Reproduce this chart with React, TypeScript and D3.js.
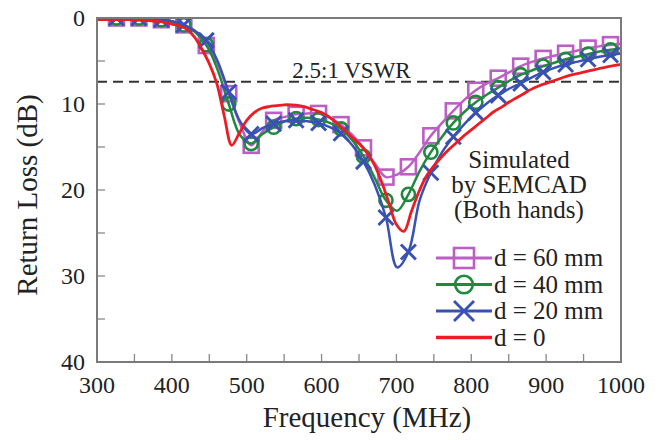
import React from "react";
import * as d3 from "d3";

// frequency grid (MHz) of the SEMCAD curves with markers
const freqMarked = [296, 311, 326, 341, 356, 371, 386, 401, 416, 431, 446, 461, 476, 491, 506, 521, 536, 551, 566, 581, 596, 611, 626, 641, 656, 671, 686, 701, 716, 731, 746, 761, 776, 791, 806, 821, 836, 851, 866, 881, 896, 911, 926, 941, 956, 971, 986, 1001];
const loss60 = [0, 0, 0, 0, 0, 0.1, 0.2, 0.4, 0.8, 1.6, 3.2, 5.3, 8.8, 12.3, 14.8, 13.2, 11.9, 11.5, 11.2, 11.1, 11.1, 11.6, 12.4, 13.6, 15.1, 16.9, 18.5, 18.2, 17.3, 15.6, 13.7, 12.2, 10.8, 9.5, 8.4, 7.6, 7.0, 6.3, 5.6, 5.1, 4.7, 4.4, 4.1, 3.8, 3.5, 3.3, 3.1, 3.0];
const loss40 = [0, 0, 0, 0, 0, 0.1, 0.2, 0.4, 0.8, 1.6, 3.1, 6.0, 10.0, 13.6, 14.6, 13.5, 12.7, 12.0, 11.7, 11.6, 11.8, 12.2, 12.9, 14.2, 16.1, 18.6, 21.2, 22.4, 20.5, 17.8, 15.6, 13.8, 12.2, 10.9, 9.8, 8.9, 8.1, 7.3, 6.6, 6.1, 5.6, 5.2, 4.8, 4.5, 4.2, 3.9, 3.7, 3.5];
const loss20 = [0, 0, 0, 0, 0, 0.1, 0.2, 0.4, 0.8, 1.5, 2.6, 5.0, 8.6, 12.0, 13.5, 12.8, 12.3, 12.0, 11.9, 12.0, 12.2, 12.7, 13.4, 14.8, 16.7, 19.4, 23.2, 29.0, 27.2, 21.2, 18.0, 15.6, 13.8, 12.3, 11.0, 9.9, 9.0, 8.2, 7.6, 6.9, 6.3, 5.8, 5.4, 5.1, 4.8, 4.5, 4.3, 4.1];
// markers sit on every other grid point
const markerFreqs = [326, 356, 386, 416, 446, 476, 506, 536, 566, 596, 626, 656, 686, 716, 746, 776, 806, 836, 866, 896, 926, 956, 986];

// d = 0 curve
const freqRed = [300, 310, 320, 330, 340, 350, 360, 370, 380, 390, 400, 410, 420, 430, 440, 450, 460, 470, 480, 490, 500, 510, 520, 530, 540, 550, 560, 570, 580, 590, 600, 610, 620, 630, 640, 650, 660, 670, 680, 690, 700, 710, 720, 730, 740, 750, 760, 770, 780, 790, 800, 810, 820, 830, 840, 850, 860, 870, 880, 890, 900, 910, 920, 930, 940, 950, 960, 970, 980, 990, 1000];
const loss0 = [0.2, 0.2, 0.2, 0.2, 0.2, 0.2, 0.3, 0.3, 0.4, 0.5, 0.7, 0.9, 1.3, 2.2, 3.6, 5.3, 7.6, 11.4, 14.8, 13.4, 11.9, 11.0, 10.5, 10.3, 10.2, 10.1, 10.1, 10.2, 10.4, 10.7, 11.0, 11.5, 12.2, 13.0, 13.8, 14.6, 15.6, 17.0, 19.0, 21.5, 24.0, 24.8, 22.5, 20.2, 18.4, 17.2, 16.2, 15.3, 14.5, 13.7, 13.0, 12.3, 11.6, 10.9, 10.4, 9.8, 9.3, 8.8, 8.3, 7.9, 7.6, 7.3, 7.0, 6.7, 6.5, 6.3, 6.1, 5.9, 5.7, 5.55, 5.4];

const xTicks = [300, 400, 500, 600, 700, 800, 900, 1000];
const xMinor = [350, 400, 450, 500, 550, 600, 650, 700, 750, 800, 850, 900, 950];
const yTicks = [0, 10, 20, 30, 40];
const yMinor = [5, 10, 15, 20, 25, 30, 35];
const vswrLevel = 7.4;
const noteLines = ["Simulated", "by SEMCAD", "(Both hands)"];

const W = 662, H = 440;
const margin = { top: 18, right: 41, bottom: 78, left: 97 };
const FONT = "'Liberation Serif', 'Times New Roman', serif";

type Shape = "square" | "circle" | "cross" | "none";

function Marker({ shape, cx, cy, s, color }: { shape: Shape; cx: number; cy: number; s: number; color: string }) {
  if (shape === "square")
    return <rect x={cx - s} y={cy - s} width={2 * s} height={2 * s} fill="none" stroke={color} strokeWidth={2.6} />;
  if (shape === "circle")
    return <circle cx={cx} cy={cy} r={s * 0.88} fill="none" stroke={color} strokeWidth={2.6} />;
  if (shape === "cross")
    return (
      <g stroke={color} strokeWidth={2.9}>
        <line x1={cx - s} y1={cy - s} x2={cx + s} y2={cy + s} />
        <line x1={cx - s} y1={cy + s} x2={cx + s} y2={cy - s} />
      </g>
    );
  return null;
}

export default function App() {
  const x = d3.scaleLinear().domain([300, 1000]).range([margin.left, W - margin.right]);
  const y = d3.scaleLinear().domain([0, 40]).range([margin.top, H - margin.bottom]);

  const series = [
    { name: "d = 60 mm", freqs: freqMarked, values: loss60, color: "#bb5fc4", shape: "square" as Shape },
    { name: "d = 40 mm", freqs: freqMarked, values: loss40, color: "#1f8a3e", shape: "circle" as Shape },
    { name: "d = 20 mm", freqs: freqMarked, values: loss20, color: "#3a51b4", shape: "cross" as Shape },
    { name: "d = 0", freqs: freqRed, values: loss0, color: "#ec1c24", shape: "none" as Shape },
  ];

  const line = d3
    .line<[number, number]>()
    .x((d) => x(d[0]))
    .y((d) => y(d[1]))
    .curve(d3.curveCatmullRom.alpha(0.5));

  const x0 = margin.left, x1 = W - margin.right;
  const y0 = margin.top, y1 = H - margin.bottom;

  return (
    <svg width={W} height={H} style={{ position: "absolute", left: 0, top: 0, background: "#fff" }} fontFamily={FONT}>
      <defs>
        <clipPath id="plot">
          <rect x={x0} y={y0} width={x1 - x0} height={y1 - y0} />
        </clipPath>
      </defs>

      {/* ticks inside the frame */}
      <g stroke="#888" strokeWidth={1.3}>
        {xMinor.map((t) => (
          <line key={"xm" + t} x1={x(t)} x2={x(t)} y1={y1} y2={y1 - 8} />
        ))}
        {yMinor.map((t) => (
          <line key={"ym" + t} x1={x0} x2={x0 + 8} y1={y(t)} y2={y(t)} />
        ))}
      </g>

      {/* VSWR reference */}
      <line x1={x0} x2={x1} y1={y(vswrLevel)} y2={y(vswrLevel)} stroke="#333" strokeWidth={2} strokeDasharray="10 6" />
      <text x={x(640)} y={78} fontSize={23} textAnchor="middle" fill="#222">2.5:1 VSWR</text>

      <g clipPath="url(#plot)">
        {series.map((s) => (
          <g key={s.name}>
            <path
              d={line(s.freqs.map((f, i) => [f, s.values[i]] as [number, number])) || ""}
              fill="none"
              stroke={s.color}
              strokeWidth={s.shape === "none" ? 2.8 : 2.5}
            />
            {s.freqs.map((f, i) =>
              markerFreqs.includes(f) ? (
                <Marker key={f} shape={s.shape} cx={x(f)} cy={y(s.values[i])} s={7.5} color={s.color} />
              ) : null
            )}
          </g>
        ))}
      </g>

      {/* frame */}
      <rect x={x0} y={y0} width={x1 - x0} height={y1 - y0} fill="none" stroke="#7a7a7a" strokeWidth={2} />

      {/* tick labels */}
      {xTicks.map((t) => (
        <text key={"xt" + t} x={x(t)} y={393} fontSize={24} textAnchor="middle" fill="#222">{t}</text>
      ))}
      {yTicks.map((t) => (
        <text key={"yt" + t} x={85} y={y(t)} dy="0.35em" fontSize={24} textAnchor="end" fill="#222">{t}</text>
      ))}

      {/* axis titles */}
      <text x={(x0 + x1) / 2 + 8} y={427} fontSize={29} textAnchor="middle" fill="#222">Frequency (MHz)</text>
      <text transform={`translate(37,${(y0 + y1) / 2 + 5}) rotate(-90)`} fontSize={29} textAnchor="middle" fill="#222">Return Loss (dB)</text>

      {/* annotation */}
      {noteLines.map((t, i) => (
        <text key={t} x={519} y={168 + i * 25} fontSize={25} textAnchor="middle" fill="#222">{t}</text>
      ))}

      {/* legend */}
      {series.map((s, i) => {
        const ly = 258 + i * 26.5;
        return (
          <g key={"lg" + s.name}>
            <line x1={436} x2={492} y1={ly} y2={ly} stroke={s.color} strokeWidth={s.shape === "none" ? 3.5 : 2.8} />
            <Marker shape={s.shape} cx={464} cy={ly} s={10} color={s.color} />
            <text x={494} y={ly} dy="0.33em" fontSize={25} fill="#222">{s.name}</text>
          </g>
        );
      })}
    </svg>
  );
}
